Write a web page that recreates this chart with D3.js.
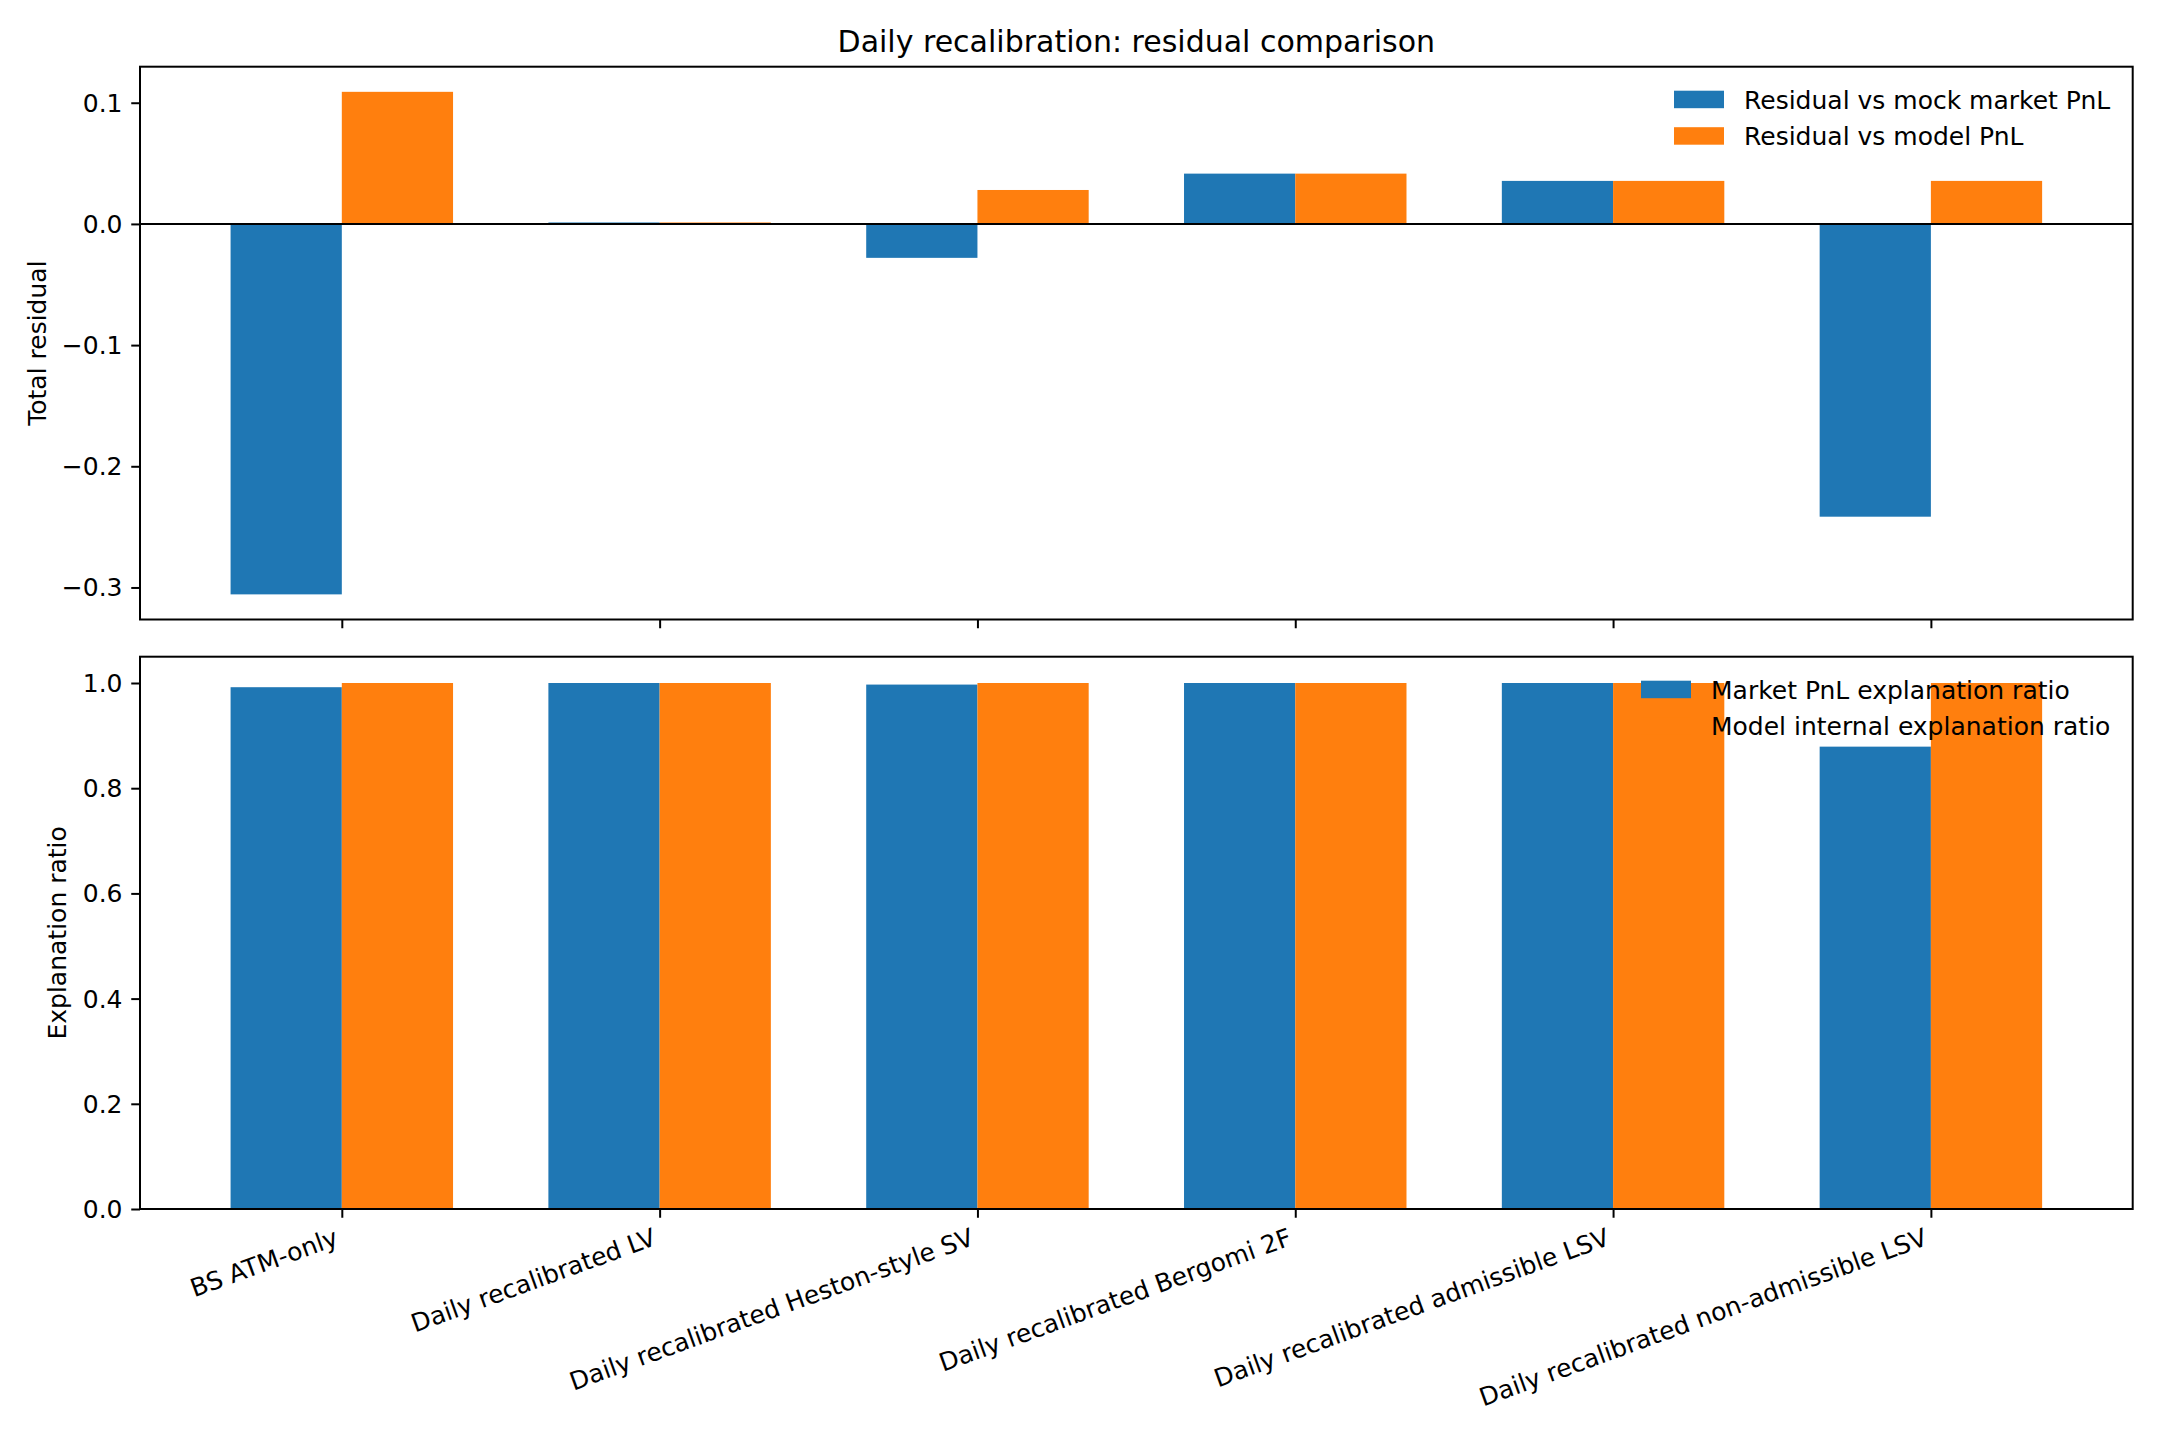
<!DOCTYPE html>
<html>
<head>
<meta charset="utf-8">
<script src="https://cdn.jsdelivr.net/npm/d3@7"></script>
<style>
  body { margin: 0; background: #fff; }
  text { font-family: "DejaVu Sans", sans-serif; fill: #000; }
</style>
</head>
<body>
<div id="chart"></div>
<script>
// Data
const categories = [
    "BS ATM-only",
    "Daily recalibrated LV",
    "Daily recalibrated Heston-style SV",
    "Daily recalibrated Bergomi 2F",
    "Daily recalibrated admissible LSV",
    "Daily recalibrated non-admissible LSV"
];
const residualVsMarket = [-0.3057, 0.0012, -0.028, 0.0415, 0.0355, -0.2416];
const residualVsModel = [0.109, 0.0012, 0.028, 0.0415, 0.0355, 0.0355];
const marketRatio = [0.992, 1.0, 0.997, 1.0, 1.0, 0.879];
const modelRatio = [1.0, 1.0, 1.0, 1.0, 1.0, 1.0];

const residualTicks = [-0.3, -0.2, -0.1, 0.0, 0.1];
const ratioTicks = [0.0, 0.2, 0.4, 0.6, 0.8, 1.0];

const topLegend = ["Residual vs mock market PnL", "Residual vs model PnL"];
const bottomLegend = ["Market PnL explanation ratio", "Model internal explanation ratio"];

function initChart() {
    const W = 2160, H = 1440;
    const left = 140, right = 2132.7;
    const topPanel = { y0: 66.7, y1: 619.5 };
    const botPanel = { y0: 656.7, y1: 1209 };
    const barW = 0.35;
    const colors = ["#1f77b4", "#ff7f0e"];
    const fs = 25; // 10pt at 180 dpi
    const tickLen = 8.75, tickPad = 8.75;

    const svg = d3.select("#chart")
        .append("svg")
        .attr("width", W)
        .attr("height", H)
        .style("background", "#fff");

    // shared category axis (matplotlib-style margins around bars)
    const xlo = -barW, xhi = categories.length - 1 + barW;
    const xm = 0.05 * (xhi - xlo);
    const x = d3.scaleLinear()
        .domain([xlo - xm, xhi + xm])
        .range([left, right]);

    function panel(p, s1, s2, yDomain, ticks, yLabel, labelX, legendNames, legendLeft) {
        const y = d3.scaleLinear().domain(yDomain).range([p.y1, p.y0]);
        const g = svg.append("g");

        // bars
        [s1, s2].forEach((series, k) => {
            g.append("g")
                .attr("fill", colors[k])
                .selectAll("rect")
                .data(series)
                .enter().append("rect")
                .attr("x", (d, i) => x(k === 0 ? i - barW : i))
                .attr("width", (d, i) => x(i + barW) - x(i))
                .attr("y", d => y(Math.max(0, d)))
                .attr("height", d => Math.abs(y(d) - y(0)));
        });

        // zero line for residual panel
        if (yDomain[0] < 0) {
            g.append("line")
                .attr("x1", left).attr("x2", right)
                .attr("y1", y(0)).attr("y2", y(0))
                .attr("stroke", "#000").attr("stroke-width", 2);
        }

        // y axis
        const yAxis = g.append("g")
            .attr("transform", `translate(${left},0)`)
            .call(d3.axisLeft(y).tickValues(ticks).tickFormat(d3.format(".1f"))
                .tickSizeInner(tickLen).tickSizeOuter(0).tickPadding(tickPad));
        yAxis.select(".domain").remove();
        yAxis.selectAll("line").attr("stroke-width", 2);
        yAxis.selectAll("text")
            .style("font-size", fs + "px")
            .style("font-family", "DejaVu Sans")
            .attr("dy", "0.34em");

        // x ticks
        const xAxis = g.append("g")
            .attr("transform", `translate(0,${p.y1})`)
            .call(d3.axisBottom(x).tickValues(d3.range(categories.length))
                .tickFormat("").tickSizeInner(tickLen).tickSizeOuter(0));
        xAxis.select(".domain").remove();
        xAxis.selectAll("line").attr("stroke-width", 2);

        // frame
        g.append("rect")
            .attr("x", left).attr("y", p.y0)
            .attr("width", right - left).attr("height", p.y1 - p.y0)
            .attr("fill", "none").attr("stroke", "#000").attr("stroke-width", 2);

        // y label
        g.append("text")
            .attr("transform", `translate(${labelX},${(p.y0 + p.y1) / 2}) rotate(-90)`)
            .style("text-anchor", "middle")
            .style("font-size", fs + "px")
            .text(yLabel);

        // legend (no frame, upper right)
        const legend = g.append("g");
        legendNames.forEach((name, i) => {
            const cy = p.y0 + 33 + i * 36.5;
            legend.append("rect")
                .attr("x", legendLeft)
                .attr("y", cy - 9)
                .attr("width", 50)
                .attr("height", 17.5)
                .attr("fill", colors[i]);
            legend.append("text")
                .attr("x", legendLeft + 70)
                .attr("y", cy)
                .attr("dy", "0.36em")
                .style("font-size", fs + "px")
                .text(name);
        });
        return y;
    }

    // top panel: total residual with 5% margins
    const rAll = residualVsMarket.concat(residualVsModel);
    const rMin = d3.min(rAll), rMax = d3.max(rAll);
    const rm = 0.05 * (rMax - rMin);
    panel(topPanel, residualVsMarket, residualVsModel, [rMin - rm, rMax + rm],
          residualTicks, "Total residual", 46, topLegend, 1674);

    // bottom panel: explanation ratio
    const qMax = d3.max(marketRatio.concat(modelRatio));
    panel(botPanel, marketRatio, modelRatio, [0, qMax * 1.05],
          ratioTicks, "Explanation ratio", 66, bottomLegend, 1641);

    // rotated category labels under bottom panel
    const theta = 20 * Math.PI / 180;
    const asc = 0.76 * fs, desc = 0.24 * fs;
    const topY = botPanel.y1 + tickLen + tickPad;
    svg.append("g")
        .selectAll("text")
        .data(categories)
        .enter().append("text")
        .attr("transform", (d, i) => {
            const ax = x(i) - desc * Math.sin(theta);
            const ay = topY + asc * Math.cos(theta);
            return `translate(${ax},${ay}) rotate(-20)`;
        })
        .style("text-anchor", "end")
        .style("font-size", fs + "px")
        .text(d => d);

    // title
    svg.append("text")
        .attr("x", (left + right) / 2)
        .attr("y", topPanel.y0 - 15)
        .style("text-anchor", "middle")
        .style("font-size", "30px")
        .text("Daily recalibration: residual comparison");
}

initChart();
</script>
</body>
</html>
